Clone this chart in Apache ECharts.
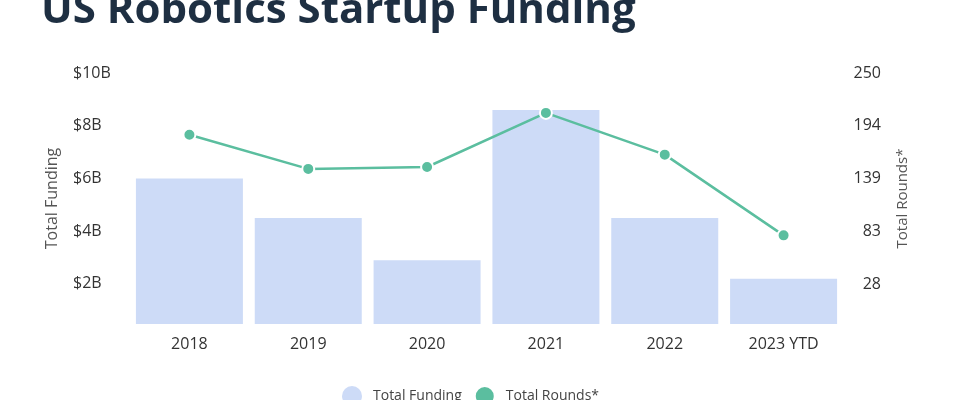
<!DOCTYPE html>
<html>
<head>
<meta charset="utf-8">
<script src="https://cdn.jsdelivr.net/npm/echarts@6/dist/echarts.min.js"></script>
<style>
html,body{margin:0;padding:0;background:#fff;}
#chart{width:980px;height:400px;}
</style>
</head>
<body>
<div id="chart"></div>
<script>
const categories = ['2018', '2019', '2020', '2021', '2022', '2023 YTD'];
const totalFunding = [6.0, 4.5, 2.9, 8.6, 4.5, 2.2];   // $B
const totalRounds = [185, 149, 151, 208, 164, 79];
const fundingTicks = [2, 4, 6, 8, 10];
const roundsTicks = [250 * 1 / 9, 250 * 3 / 9, 250 * 5 / 9, 250 * 7 / 9, 250];

const chart = echarts.init(document.getElementById('chart'));
const font = '"Open Sans", Lato, sans-serif';
chart.setOption({
  animation: false,
  title: {
    text: 'US Robotics Startup Funding',
    left: 36,
    top: -15,
    textStyle: { fontSize: 42, fontWeight: 'bold', color: '#1e2f42', fontFamily: font }
  },
  legend: {
    bottom: -12,
    left: 337,
    icon: 'circle',
    itemWidth: 20,
    itemHeight: 20,
    itemGap: 12,
    textStyle: { fontSize: 14, color: '#444', fontFamily: font, padding: [0, 0, 0, 6] },
    data: ['Total Funding', 'Total Rounds*']
  },
  grid: { left: 130, right: 137, top: 73, bottom: 76 },
  xAxis: {
    type: 'category',
    data: categories,
    axisLine: { show: false },
    axisTick: { show: false },
    axisLabel: { fontSize: 16, color: '#333', margin: 12, fontFamily: font }
  },
  yAxis: [
    {
      type: 'value',
      min: 0.48,
      max: 10,
      name: 'Total Funding',
      nameLocation: 'middle',
      nameGap: 70,
      nameTextStyle: { fontSize: 16, color: '#555', fontFamily: font },
      splitLine: { show: false },
      axisLine: { show: false },
      axisTick: { show: false },
      axisLabel: {
        customValues: fundingTicks,
        fontSize: 16, color: '#333', margin: 57, align: 'left', fontFamily: font,
        formatter: v => '$' + Math.round(v) + 'B'
      }
    },
    {
      type: 'value',
      min: 250 - (250 - 250 / 9) * (324 - 73) / (284 - 73),
      max: 250,
      name: 'Total Rounds*',
      nameLocation: 'middle',
      nameGap: 52,
      nameTextStyle: { fontSize: 15, color: '#555', fontFamily: font },
      splitLine: { show: false },
      axisLine: { show: false },
      axisTick: { show: false },
      axisLabel: {
        customValues: roundsTicks,
        fontSize: 16, color: '#333', margin: 38, align: 'right', fontFamily: font,
        formatter: v => String(Math.round(v))
      }
    }
  ],
  series: [
    {
      name: 'Total Funding',
      type: 'bar',
      data: totalFunding,
      barWidth: 107,
      itemStyle: { color: '#cddbf7' },
      yAxisIndex: 0
    },
    {
      name: 'Total Rounds*',
      type: 'line',
      data: totalRounds,
      yAxisIndex: 1,
      symbol: 'circle',
      symbolSize: 12,
      lineStyle: { color: '#5bbe9f', width: 2.5 },
      itemStyle: { color: '#5bbe9f', borderColor: '#fff', borderWidth: 2 }
    }
  ]
});
</script>
</body>
</html>
